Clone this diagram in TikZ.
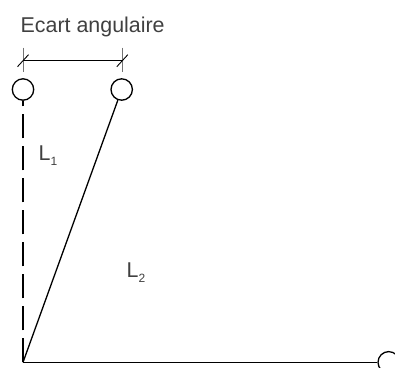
\documentclass[tikz,border=0pt]{standalone}
\usepackage{fontspec}
\setmainfont{Liberation Sans}
\usetikzlibrary{calc}

\begin{document}
\begin{tikzpicture}[
    x=1pt, y=-1pt,
    hinge/.style={circle, draw, line width=1.3pt, minimum size=21.4pt, inner sep=0pt},
    bar/.style={line width=1.3pt},
    dimline/.style={line width=0.9pt},
    extline/.style={line width=0.9pt, black!55},
    lbl/.style={anchor=base west, inner sep=0pt, text=black!75, font=\fontsize{21.4}{25}\selectfont}
]
\useasboundingbox (0,0) rectangle (395,367);
\coordinate (base) at (23,362.3);
\node[hinge] (top1) at (23,89.5) {};
\node[hinge] (top2) at (121.7,89.5) {};
\node[hinge] (end) at (388.7,362.3) {};
\draw[bar, dash pattern=on 24pt off 8pt] (base) -- (top1);
\draw[bar] (base) -- (top2);
\draw[bar] (base) -- (end);
% angular spread
\coordinate (dimL) at (23,60.7);
\coordinate (dimR) at (122.3,60.7);
\draw[extline] ($(dimL)+(0,-13)$) -- ($(dimL)+(0,11)$);
\draw[extline] ($(dimR)+(0,-13)$) -- ($(dimR)+(0,11)$);
\draw[dimline] (dimL) -- (dimR);
\draw[dimline] ($(dimL)+(-5.5,6)$) -- ($(dimL)+(5.5,-6)$);
\draw[dimline] ($(dimR)+(-5.5,6)$) -- ($(dimR)+(5.5,-6)$);
\node[lbl] (title) at (20.5,32.3) {Ecart angulaire};
\node[lbl] (l1) at (38.5,160) {L\raisebox{-5pt}{\fontsize{12}{14}\selectfont 1}};
\node[lbl] (l2) at (126.5,277) {L\raisebox{-5pt}{\fontsize{12}{14}\selectfont 2}};
\end{tikzpicture}
\end{document}
